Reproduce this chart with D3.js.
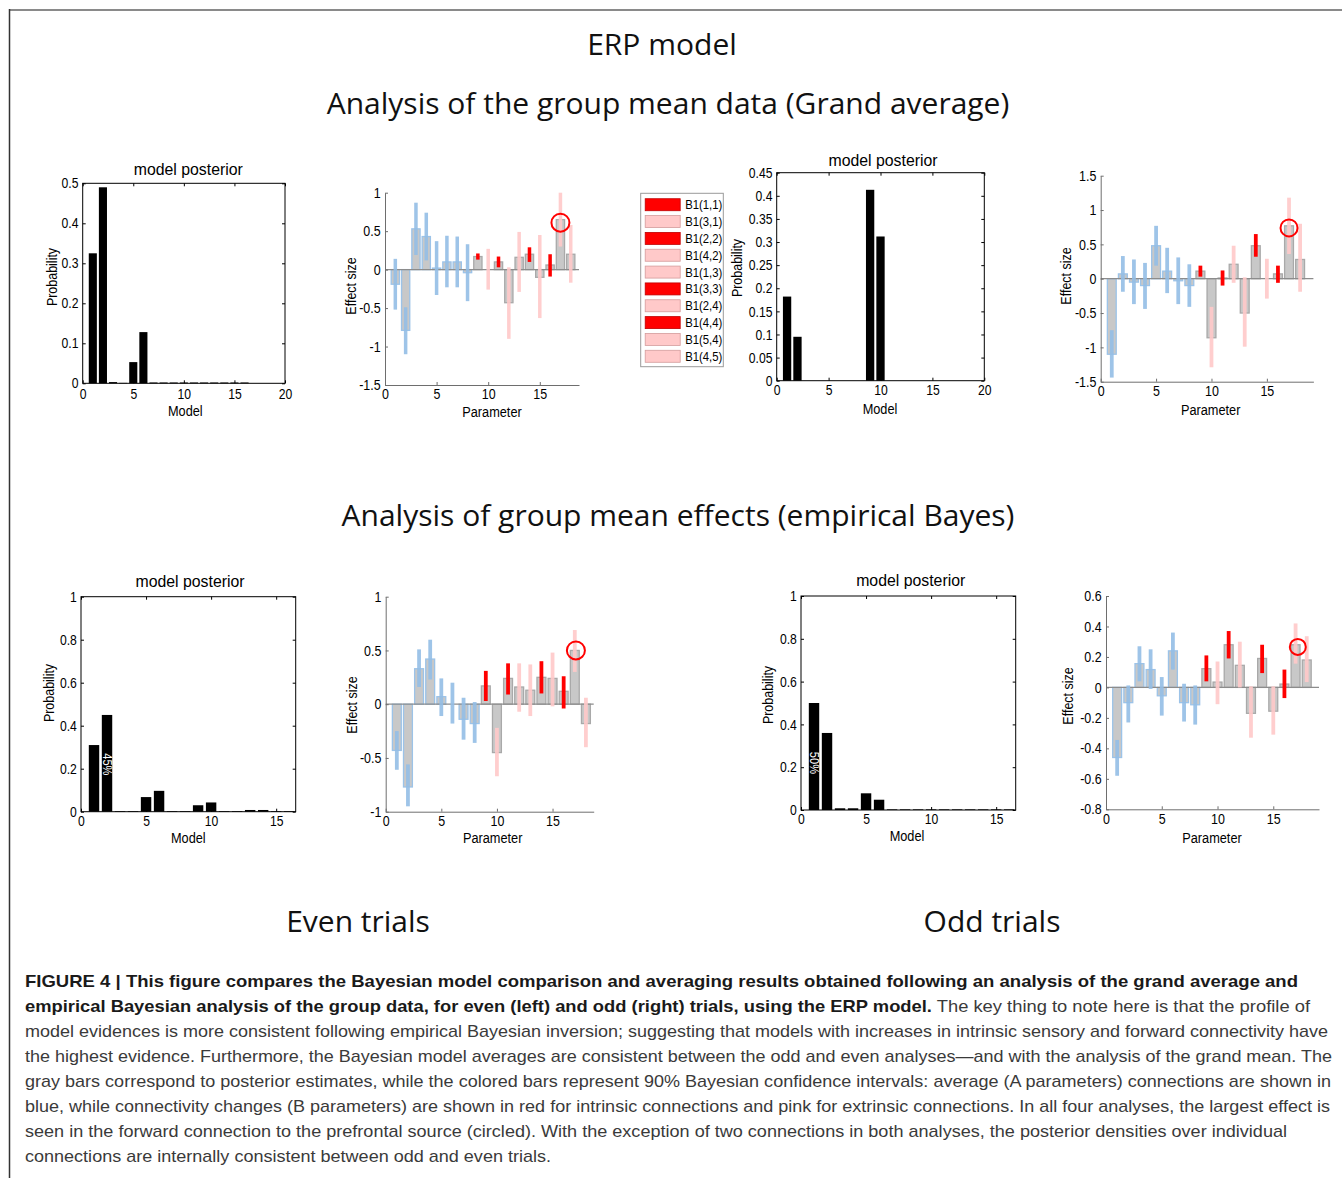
<!DOCTYPE html>
<html><head><meta charset="utf-8">
<script src="https://cdn.jsdelivr.net/npm/d3@7"></script>
<style>body{margin:0;background:#fff}svg{display:block}</style>
</head><body>
<svg id="fig" width="1342" height="1178"></svg>
<script>
// ---------------- DATA ----------------
const paramIds = d3.range(1, 19);
// A = average connection (blue), R = intrinsic change (red), P = extrinsic change (pink)
const paramTypes = ['A','A','A','A','A','A','A','A','R','P','R','P','P','R','P','R','P','P'];

const legendLabels = ['B1(1,1)','B1(3,1)','B1(2,2)','B1(4,2)','B1(1,3)','B1(3,3)','B1(2,4)','B1(4,4)','B1(5,4)','B1(4,5)'];
const legendTypes  = ['R','P','R','P','P','R','P','R','P','P'];

// Grand average – even trials
const evenGAPosterior = [0.325,0.49,0.003,0.001,0.053,0.128,0.002,0.002,0.002,0.002,0.002,0.002,0.002,0.002,0.002,0.002];
const evenGAMean = [-0.19,-0.79,0.53,0.43,0.02,0.10,0.10,-0.04,0.17,0.00,0.10,-0.43,0.16,0.20,-0.10,0.06,0.65,0.20];
const evenGALow  = [-0.52,-1.10,0.19,0.12,-0.33,-0.23,-0.23,-0.41,0.13,-0.26,0.03,-0.90,-0.29,0.10,-0.63,-0.09,0.30,-0.17];
const evenGAHigh = [0.14,-0.49,0.87,0.74,0.37,0.44,0.43,0.33,0.21,0.27,0.17,0.03,0.49,0.29,0.45,0.20,1.00,0.58];

// Grand average – odd trials
const oddGAPosterior = [0.182,0.095,0,0,0,0,0,0,0.413,0.312,0,0,0,0,0,0];
const oddGAMean = [-1.10,0.07,-0.05,-0.10,0.48,0.11,-0.03,-0.10,0.11,-0.86,0.01,0.21,-0.50,0.48,0.00,0.07,0.77,0.28];
const oddGALow  = [-1.44,-0.19,-0.37,-0.44,0.19,-0.21,-0.37,-0.41,0.03,-1.29,-0.10,-0.06,-0.99,0.32,-0.29,-0.06,0.36,-0.19];
const oddGAHigh = [-0.75,0.33,0.28,0.23,0.77,0.45,0.31,0.21,0.19,-0.41,0.12,0.48,0.02,0.65,0.29,0.19,1.18,0.80];

// Empirical Bayes – even trials
const evenPEBPosterior = [0.31,0.45,0.003,0.003,0.068,0.097,0.003,0.003,0.03,0.043,0.003,0.003,0.008,0.008,0.003,0.003];
const evenPEBMean = [-0.43,-0.77,0.33,0.42,0.07,0.00,-0.14,-0.18,0.17,-0.45,0.24,0.16,0.13,0.25,0.24,0.12,0.50,-0.18];
const evenPEBLow  = [-0.61,-0.95,0.16,0.23,-0.11,-0.18,-0.33,-0.36,0.03,-0.67,0.09,-0.07,-0.11,0.10,-0.02,-0.04,0.30,-0.40];
const evenPEBHigh = [-0.25,-0.56,0.51,0.60,0.24,0.20,0.06,0.02,0.31,-0.22,0.38,0.38,0.37,0.40,0.48,0.26,0.69,0.06];

// Empirical Bayes – odd trials
const oddPEBPosterior = [0.50,0.36,0.008,0.008,0.078,0.048,0.003,0.003,0.003,0.003,0.003,0.003,0.003,0.003,0.003,0.003];
const oddPEBMean = [-0.46,-0.10,0.156,0.117,-0.055,0.24,-0.10,-0.114,0.123,0.035,0.28,0.145,-0.17,0.19,-0.156,0.022,0.28,0.18];
const oddPEBLow  = [-0.58,-0.23,0.04,-0.01,-0.185,0.117,-0.224,-0.244,0.04,-0.11,0.19,0.00,-0.33,0.094,-0.31,-0.07,0.156,0.035];
const oddPEBHigh = [-0.345,0.013,0.27,0.25,0.068,0.36,0.024,0.013,0.21,0.17,0.37,0.30,0.007,0.28,0.007,0.117,0.42,0.336];

// highlighted (circled) parameter and its marker height
const circledParam = 17;
const circleY = {evenGA:0.61, oddGA:0.74, evenPEB:0.50, oddPEB:0.266};

// percent annotations on winning models
const evenPEBNote = {model:2, at:0.22, text:'45%'};
const oddPEBNote  = {model:1, at:0.22, text:'50%'};

// tick values
const ticksModel20 = [0,5,10,15,20];
const ticksModel15 = [0,5,10,15];
const ticksParam = [0,5,10,15];
const ticksProb05 = [0,0.1,0.2,0.3,0.4,0.5];
const ticksProb045 = [0,0.05,0.1,0.15,0.2,0.25,0.3,0.35,0.4,0.45];
const ticksProb1 = [0,0.2,0.4,0.6,0.8,1];
const ticksEffGA1 = [-1.5,-1,-0.5,0,0.5,1];
const ticksEffGA2 = [-1.5,-1,-0.5,0,0.5,1,1.5];
const ticksEffPEB1 = [-1,-0.5,0,0.5,1];
const ticksEffPEB2 = [-0.8,-0.6,-0.4,-0.2,0,0.2,0.4,0.6];

const headings = ['ERP model','Analysis of the group mean data (Grand average)','Analysis of group mean effects (empirical Bayes)','Even trials','Odd trials'];

const captionLines = [
  [['FIGURE 4 | This figure compares the Bayesian model comparison and averaging results obtained following an analysis of the grand average and', true]],
  [['empirical Bayesian analysis of the group data, for even (left) and odd (right) trials, using the ERP model.', true], [' The key thing to note here is that the profile of', false]],
  [['model evidences is more consistent following empirical Bayesian inversion; suggesting that models with increases in intrinsic sensory and forward connectivity have', false]],
  [['the highest evidence. Furthermore, the Bayesian model averages are consistent between the odd and even analyses\u2014and with the analysis of the grand mean. The', false]],
  [['gray bars correspond to posterior estimates, while the colored bars represent 90% Bayesian confidence intervals: average (A parameters) connections are shown in', false]],
  [['blue, while connectivity changes (B parameters) are shown in red for intrinsic connections and pink for extrinsic connections. In all four analyses, the largest effect is', false]],
  [['seen in the forward connection to the prefrontal source (circled). With the exception of two connections in both analyses, the posterior densities over individual', false]],
  [['connections are internally consistent between odd and even trials.', false]]
];
const captionWidths = [1273,1285,1303,1307,1306,1305,1262,526];

// ---------------- STYLE ----------------
const FONT = "'Liberation Sans', Arial, Helvetica, sans-serif";
const TFONT = "'Open Sans', 'Noto Sans', sans-serif";
const fillOf = {A:'#94bee6', R:'#ff0000', P:'#ffc9c9'};
const barStrokeOf = {A:'#9cc3e8', R:'#a9a9a9', P:'#a9a9a9'};

const svg = d3.select('#fig');

function txt(g, x, y, s, o = {}) {
  const t = g.append('text')
    .attr('transform', `translate(${x},${y})${o.rot ? ` rotate(${o.rot})` : ''} scale(${o.sx ?? 1},1)`)
    .attr('text-anchor', o.anchor || 'middle')
    .style('font-family', o.family || FONT)
    .style('font-size', (o.size || 14) + 'px')
    .style('fill', o.fill || '#000');
  if (o.weight) t.style('font-weight', o.weight);
  t.text(s);
  return t;
}

function styleTicks(sel, size, sx, color) {
  sel.selectAll('text')
    .style('font-family', FONT).style('font-size', size + 'px').style('fill', color || '#000')
    .attr('transform', `scale(${sx},1)`);
}

// figure frame
svg.append('line').attr('x1', 9).attr('x2', 1342).attr('y1', 10).attr('y2', 10).attr('stroke', '#8a8a8a').attr('stroke-width', 2);
svg.append('line').attr('x1', 9.5).attr('x2', 9.5).attr('y1', 9).attr('y2', 1178).attr('stroke', '#333').attr('stroke-width', 1.5);

// ---------------- PANELS ----------------
function posteriorPanel(L, values, xTicks, yTicks, note) {
  const g = svg.append('g');
  const x = d3.scaleLinear().domain([0, L.xMax]).range([L.left, L.right]);
  const y = d3.scaleLinear().domain([0, L.yMax]).range([L.bottom, L.top]);
  const models = d3.range(1, values.length + 1);
  g.selectAll('rect.bar').data(models).join('rect').attr('class', 'bar')
    .attr('x', m => x(m - 0.4)).attr('width', x(0.8) - x(0))
    .attr('y', m => y(values[m - 1])).attr('height', m => y(0) - y(values[m - 1]))
    .attr('fill', '#000');
  g.append('rect').attr('x', L.left).attr('y', L.top).attr('width', L.right - L.left).attr('height', L.bottom - L.top)
    .attr('fill', 'none').attr('stroke', '#000').attr('stroke-width', 1);
  const fmt = d => String(d);
  const left = g.append('g').attr('transform', `translate(${L.left},0)`)
    .call(d3.axisLeft(y).tickValues(yTicks).tickFormat(fmt).tickSizeInner(-3).tickSizeOuter(0).tickPadding(5));
  const right = g.append('g').attr('transform', `translate(${L.right},0)`)
    .call(d3.axisRight(y).tickValues(yTicks).tickFormat('').tickSizeInner(-3).tickSizeOuter(0));
  const bottom = g.append('g').attr('transform', `translate(0,${L.bottom})`)
    .call(d3.axisBottom(x).tickValues(xTicks).tickFormat(fmt).tickSizeInner(-3).tickSizeOuter(0).tickPadding(L.xPad));
  const top = g.append('g').attr('transform', `translate(0,${L.top})`)
    .call(d3.axisTop(x).tickValues(xTicks).tickFormat('').tickSizeInner(-3).tickSizeOuter(0));
  [left, right, bottom, top].forEach(a => { a.select('.domain').remove(); a.selectAll('line').attr('stroke', '#000'); });
  styleTicks(left, L.tick, 0.84); styleTicks(bottom, L.tick, 0.84);
  txt(g, L.title[0], L.title[1], 'model posterior', {size: 16.5, sx: 0.96});
  txt(g, L.ylab[0], L.ylab[1], 'Probability', {size: 14.5, sx: 0.86, rot: -90});
  txt(g, L.xlab[0], L.xlab[1], 'Model', {size: 14.5, sx: 0.88});
  if (note) {
    txt(g, x(note.model) - 4, y(note.at), note.text, {size: 13, sx: 0.85, rot: 90, fill: '#fff'});
  }
}

function effectPanel(L, mean, low, high, xTicks, yTicks, cy) {
  const g = svg.append('g');
  const x = d3.scaleLinear().domain([0, L.xMax]).range([L.left, L.right]);
  const y = d3.scaleLinear().domain([L.yMin, L.yMax]).range([L.bottom, L.top]);
  // posterior estimate bars
  g.selectAll('rect.est').data(paramIds).join('rect').attr('class', 'est')
    .attr('x', p => x(p - 0.4)).attr('width', x(0.8) - x(0))
    .attr('y', p => y(Math.max(0, mean[p - 1]))).attr('height', p => Math.abs(y(mean[p - 1]) - y(0)))
    .attr('fill', '#c8c8c8').attr('stroke', p => barStrokeOf[paramTypes[p - 1]]).attr('stroke-width', 1.3);
  // zero line
  g.append('line').attr('x1', x(0)).attr('x2', x(L.xMax)).attr('y1', y(0)).attr('y2', y(0)).attr('stroke', '#8c8c8c').attr('stroke-width', 1.2);
  // confidence intervals
  g.selectAll('rect.ci').data(paramIds).join('rect').attr('class', 'ci')
    .attr('x', p => x(p - 0.17)).attr('width', x(0.34) - x(0))
    .attr('y', p => y(high[p - 1])).attr('height', p => y(low[p - 1]) - y(high[p - 1]))
    .attr('fill', p => fillOf[paramTypes[p - 1]]).attr('opacity', p => paramTypes[p - 1] === 'R' ? 1 : 0.9);
  const fmt = d => String(d);
  const left = g.append('g').attr('transform', `translate(${x(0)},0)`)
    .call(d3.axisLeft(y).tickValues(yTicks).tickFormat(fmt).tickSizeInner(-3).tickSizeOuter(0).tickPadding(5));
  const bottom = g.append('g').attr('transform', `translate(0,${L.bottom})`)
    .call(d3.axisBottom(x).tickValues(xTicks).tickFormat(fmt).tickSizeInner(-3).tickSizeOuter(0).tickPadding(L.xPad));
  [left, bottom].forEach(a => { a.select('.domain').attr('stroke', '#6e6e6e'); a.selectAll('line').attr('stroke', '#6e6e6e'); });
  styleTicks(left, L.tick, 0.86); styleTicks(bottom, L.tick, 0.86);
  txt(g, L.ylab[0], L.ylab[1], 'Effect size', {size: 14.5, sx: 0.86, rot: -90});
  txt(g, L.xlab[0], L.xlab[1], 'Parameter', {size: 14.5, sx: 0.88});
  g.append('circle').attr('cx', x(circledParam + L.cdx)).attr('cy', y(cy)).attr('r', L.r)
    .attr('fill', 'none').attr('stroke', '#ff0000').attr('stroke-width', 2);
}

posteriorPanel({left:82.7, right:285, top:183.3, bottom:383.3, xMax:20, yMax:0.5, tick:14.5, xPad:5,
  title:[188.3,175], ylab:[57,277], xlab:[185.3,416]}, evenGAPosterior, ticksModel20, ticksProb05);
effectPanel({left:385, right:579, top:192.7, bottom:385, xMax:18.8, yMin:-1.5, yMax:1, tick:14.5, xPad:4, r:9, cdx:0,
  ylab:[356,286], xlab:[492,417]}, evenGAMean, evenGALow, evenGAHigh, ticksParam, ticksEffGA1, circleY.evenGA);
posteriorPanel({left:776.7, right:984.3, top:172.7, bottom:380.7, xMax:20, yMax:0.45, tick:14.5, xPad:4,
  title:[883,166], ylab:[742,268], xlab:[880,414]}, oddGAPosterior, ticksModel20, ticksProb045);
effectPanel({left:1100.7, right:1313.4, top:175.7, bottom:381.7, xMax:19.2, yMin:-1.5, yMax:1.5, tick:14.5, xPad:4, r:8.5, cdx:0,
  ylab:[1071,276], xlab:[1210.7,415]}, oddGAMean, oddGALow, oddGAHigh, ticksParam, ticksEffGA2, circleY.oddGA);

posteriorPanel({left:81, right:295.7, top:596.7, bottom:811.7, xMax:16.5, yMax:1, tick:14.5, xPad:4,
  title:[190,587], ylab:[54,693], xlab:[188.3,843]}, evenPEBPosterior, ticksModel15, ticksProb1, evenPEBNote);
effectPanel({left:385.7, right:593.7, top:596.7, bottom:811.7, xMax:18.7, yMin:-1, yMax:1, tick:14.5, xPad:4, r:9, cdx:0.1,
  ylab:[357,705], xlab:[492.7,843]}, evenPEBMean, evenPEBLow, evenPEBHigh, ticksParam, ticksEffPEB1, circleY.evenPEB);
posteriorPanel({left:801, right:1015.7, top:596, bottom:810, xMax:16.5, yMax:1, tick:14.5, xPad:4,
  title:[910.7,586], ylab:[773,695], xlab:[907,841]}, oddPEBPosterior, ticksModel15, ticksProb1, oddPEBNote);
effectPanel({left:1106, right:1319, top:596, bottom:809.3, xMax:19.1, yMin:-0.8, yMax:0.6, tick:14.5, xPad:4, r:8, cdx:0.2,
  ylab:[1073,696], xlab:[1212,843]}, oddPEBMean, oddPEBLow, oddPEBHigh, ticksParam, ticksEffPEB2, circleY.oddPEB);

// ---------------- LEGEND ----------------
(function legend() {
  const g = svg.append('g');
  const lx = 640.7, ly = 193.3, lw = 82.6, lh = 173.4;
  g.append('rect').attr('x', lx).attr('y', ly).attr('width', lw).attr('height', lh).attr('fill', '#fff').attr('stroke', '#9a9a9a');
  const row = d3.scaleBand().domain(legendLabels).range([ly + 3, ly + lh - 2]);
  g.selectAll('rect.sw').data(legendLabels).join('rect').attr('class', 'sw')
    .attr('x', lx + 4.5).attr('width', 35)
    .attr('y', d => row(d) + row.bandwidth() / 2 - 6).attr('height', 12)
    .attr('fill', (d, i) => fillOf[legendTypes[i]])
    .attr('stroke', (d, i) => legendTypes[i] === 'R' ? '#c00000' : '#d49c9c').attr('stroke-width', 0.8);
  legendLabels.forEach(d => txt(g, lx + 44.5, row(d) + row.bandwidth() / 2 + 4.5, d, {size: 13, sx: 0.87, anchor: 'start'}));
})();

// ---------------- HEADINGS ----------------
txt(svg, 662, 55, headings[0], {size: 30, family: TFONT, fill: '#111'});
txt(svg, 668, 114, headings[1], {size: 30, family: TFONT, fill: '#111'});
txt(svg, 678, 526, headings[2], {size: 30, family: TFONT, fill: '#111'});
txt(svg, 358, 932, headings[3], {size: 30, family: TFONT, fill: '#111'});
txt(svg, 992, 932, headings[4], {size: 30, family: TFONT, fill: '#111'});

// ---------------- CAPTION ----------------
captionLines.forEach((parts, i) => {
  const t = svg.append('text').attr('x', 25).attr('y', 987 + i * 25)
    .style('font-family', FONT).style('font-size', '17px');
  parts.forEach(([s, b]) => t.append('tspan').text(s)
    .style('font-weight', b ? 'bold' : 'normal').style('fill', b ? '#1a1a1a' : '#3a3a3a'));
  t.attr('textLength', captionWidths[i]).attr('lengthAdjust', 'spacingAndGlyphs');
});
</script>
</body></html>
